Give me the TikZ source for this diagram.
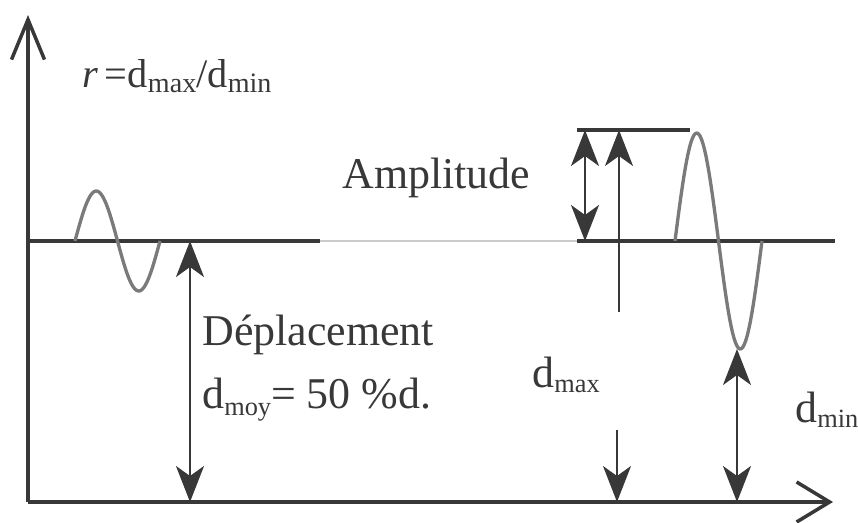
\documentclass[tikz,border=0pt]{standalone}
\usepackage{fontspec}
\setmainfont{LiberationSerif}[
    Extension=.ttf,
    UprightFont=*-Regular,
    ItalicFont=*-Italic,
    BoldFont=*-Bold
]
\usetikzlibrary{positioning, arrows.meta}

\definecolor{ink}{HTML}{383838}
\definecolor{wavegray}{HTML}{7A7A7A}
\definecolor{faint}{HTML}{CCCCCC}

% d with a lowered index: text, size, drop
\newcommand{\dsub}[3]{d\raisebox{-#3}{\fontsize{#2}{#2}\selectfont #1}}

\begin{document}
\begin{tikzpicture}[
    x=0.02cm, y=0.02cm,
    axis/.style={
        ink,
        line width=2pt
    },
    level/.style={
        ink,
        line width=2pt
    },
    wave/.style={
        wavegray,
        line width=1.9pt,
        line join=round
    },
    arrow/.style={
        ink,
        line width=1.3pt,
        -{Stealth[length=0.72cm, width=0.56cm, inset=0.2cm]}
    },
    dbl/.style={
        ink,
        line width=1.3pt,
        {Stealth[length=0.72cm, width=0.56cm, inset=0.2cm]}-{Stealth[length=0.72cm, width=0.56cm, inset=0.2cm]}
    },
    txt/.style={
        text=ink,
        inner sep=0pt,
        anchor=base west,
        font=\fontsize{25}{30}\selectfont
    }
]
\useasboundingbox (0,0) rectangle (858,522);

% axes
\coordinate (origin) at (28,20);
\coordinate (ytip) at (28,507);
\coordinate (xtip) at (833,20);
\draw[axis, -{Straight Barb[length=0.8cm, width=0.66cm]}] (origin) -- (ytip);
\draw[axis, -{Straight Barb[length=0.66cm, width=0.8cm]}] (origin) -- (xtip);

% mean level
\coordinate (meanL) at (28,281);
\coordinate (meanA) at (320,281);
\coordinate (meanB) at (577,281);
\coordinate (meanR) at (835,281);
\draw[level] (meanL) -- (meanA);
\draw[faint, line width=0.6pt] (meanA) -- (meanB);
\draw[level] (meanB) -- (meanR);

% peak level
\coordinate (peakL) at (577,392);
\coordinate (peakR) at (690,392);
\draw[level] (peakL) -- (peakR);

% small and large waves
\draw[wave] plot[domain=0:360, samples=60] ({75+\x/360*85}, {281+50*sin(\x)});
\draw[wave] plot[domain=0:360, samples=60] ({675+\x/360*87}, {281+108*sin(\x)});

% displacement
\coordinate (moyT) at (190,281);
\coordinate (moyB) at (190,20);
\draw[dbl] (moyT) -- (moyB);

% amplitude
\coordinate (ampT) at (585,392);
\coordinate (ampB) at (585,281);
\draw[dbl] (ampT) -- (ampB);

% d max
\coordinate (maxS) at (619,210);
\coordinate (maxT) at (619,392);
\coordinate (maxS2) at (617,92);
\coordinate (maxB) at (617,20);
\draw[arrow, line width=1pt] (maxS) -- (maxT);
\draw[arrow, line width=1pt] (maxS2) -- (maxB);

% d min
\coordinate (minT) at (737,173);
\coordinate (minB) at (737,20);
\draw[dbl] (minT) -- (minB);

% labels
\node[txt, font=\fontsize{23}{26}\selectfont] (ratio) at (82,435)
    {\textit{r}\,=\dsub{max}{16pt}{3pt}/\dsub{min}{16pt}{3pt}};
\node[txt] (amp) at (342,334) {Amplitude};
\node[txt] (depl) at (202,177) {Déplacement};
\node[txt] (moy) at (202,114) {\dsub{moy}{15pt}{4pt}= 50~\%d.};
\node[txt] (dmax) at (532,135) {\dsub{max}{15pt}{3pt}};
\node[txt] (dmin) at (795,100) {\dsub{min}{15pt}{3pt}};

\end{tikzpicture}
\end{document}
